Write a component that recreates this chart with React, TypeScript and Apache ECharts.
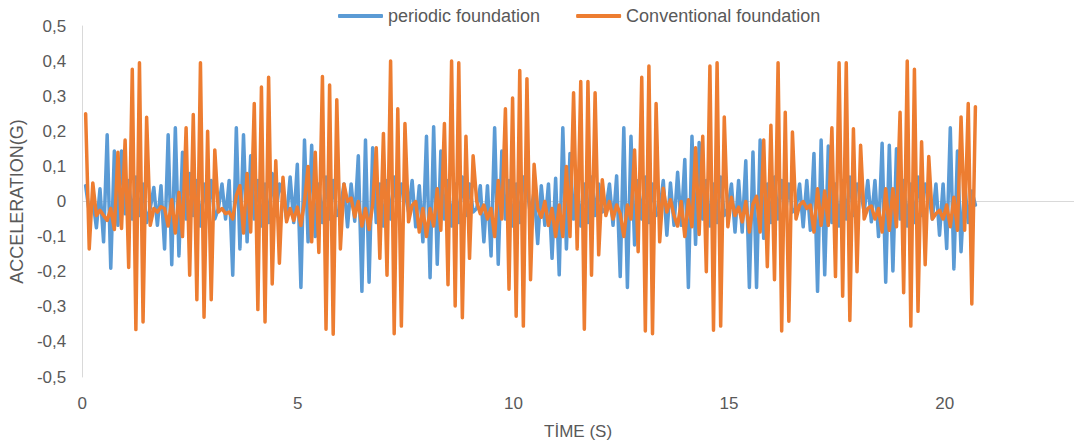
import React, { useEffect, useRef } from 'react';
import * as echarts from 'echarts';

// time axis: first sample time and sample step (s)
const TIME_START = 0.08;
const TIME_STEP = 0.0832;

const xTickLabels = [0, 5, 10, 15, 20];

// periodic foundation acceleration (g)
const periodicFoundation = [
  0.045, -0.03, 0.005, -0.075, 0.036, -0.115, 0.19, -0.19, 0.144, -0.068,
  0.144, -0.035, 0.06, -0.05, 0.07, -0.04, 0.05, -0.06, -0.02, 0.04,
  -0.068, 0.045, -0.135, 0.19, -0.18, 0.21, -0.155, 0.14, -0.05, 0.08,
  -0.04, 0.06, -0.07, 0.05, -0.04, 0.06, -0.05, -0.02, 0.05, -0.05,
  0.06, -0.21, 0.21, -0.135, 0.19, -0.115, 0.13, -0.05, 0.06, -0.07,
  0.05, -0.06, 0.08, -0.04, 0.05, 0.02, -0.05, 0.07, -0.06, 0.106,
  -0.245, 0.175, -0.115, 0.16, -0.1, 0.05, -0.06, 0.07, -0.05, 0.06,
  -0.04, -0.02, 0.05, -0.072, 0.05, -0.056, 0.13, -0.256, 0.175, -0.23,
  0.153, -0.06, 0.05, -0.07, 0.06, -0.05, 0.07, -0.04, 0.05, 0.03,
  -0.03, 0.06, -0.072, 0.045, -0.115, 0.186, -0.217, 0.213, -0.179, 0.144,
  -0.05, 0.06, -0.07, 0.05, -0.06, 0.07, -0.04, 0.05, -0.03, -0.02,
  0.045, -0.115, 0.045, -0.155, 0.21, -0.179, 0.144, -0.05, 0.06, -0.07,
  0.05, -0.06, 0.07, 0.04, -0.04, 0.03, -0.12, 0.045, -0.068, 0.05,
  -0.162, 0.066, -0.209, 0.21, -0.135, 0.137, -0.05, 0.06, -0.07, 0.05,
  -0.06, 0.07, -0.04, 0.05, -0.03, -0.02, 0.05, -0.068, 0.073, -0.214,
  0.21, -0.245, 0.186, -0.124, 0.06, -0.05, 0.07, -0.06, 0.05, -0.04,
  -0.03, 0.06, -0.096, 0.053, -0.068, 0.083, -0.068, 0.12, -0.245, 0.186,
  -0.122, 0.168, -0.05, 0.06, -0.07, 0.05, -0.06, 0.07, -0.04, -0.02,
  0.05, -0.087, 0.06, -0.087, 0.116, -0.245, 0.141, -0.245, 0.175, -0.105,
  0.05, -0.06, 0.07, -0.05, 0.06, -0.04, 0.05, -0.03, -0.02, 0.05,
  -0.072, 0.06, -0.082, 0.137, -0.256, 0.175, -0.209, 0.158, -0.06, 0.05,
  -0.07, 0.06, -0.05, 0.07, -0.04, 0.05, 0.03, -0.03, 0.06, -0.058,
  0.06, -0.1, 0.166, -0.23, 0.16, -0.198, 0.15, -0.05, 0.06, -0.07,
  0.05, -0.06, 0.07, -0.04, 0.05, 0.02, -0.05, 0.05, -0.096, 0.05,
  -0.134, 0.21, -0.192, 0.144, -0.143, 0.05, -0.06, 0.03, -0.01,
];

// conventional foundation acceleration (g)
const conventionalFoundation = [
  0.25, -0.135, 0.053, -0.04, -0.025, -0.04, -0.054, -0.02, -0.08, 0.14,
  -0.077, 0.175, -0.188, 0.377, -0.365, 0.395, -0.343, 0.24, -0.068, -0.02,
  -0.03, -0.015, -0.02, -0.07, 0.005, -0.09, 0.026, -0.1, 0.21, -0.21,
  0.248, -0.28, 0.395, -0.33, 0.2, -0.28, 0.147, -0.03, -0.02, -0.035,
  -0.03, -0.05, 0.017, 0.045, -0.09, 0.08, -0.087, 0.279, -0.308, 0.326,
  -0.343, 0.354, -0.235, 0.116, -0.176, 0.069, -0.058, -0.02, -0.054, -0.016,
  -0.068, 0.0, 0.1, -0.115, 0.14, -0.145, 0.356, -0.364, 0.332, -0.378,
  0.29, -0.135, 0.05, 0.0, 0.01, -0.044, 0.0, -0.07, -0.02, -0.08,
  -0.01, 0.153, -0.162, 0.194, -0.21, 0.4, -0.377, 0.264, -0.355, 0.222,
  -0.058, -0.011, 0.0, -0.087, -0.02, -0.1, -0.02, -0.07, 0.036, -0.082,
  0.222, -0.237, 0.4, -0.298, 0.395, -0.331, 0.186, -0.162, 0.13, 0.0,
  -0.035, -0.01, -0.05, -0.02, -0.1, 0.06, -0.05, 0.264, -0.25, 0.295,
  -0.327, 0.373, -0.355, 0.35, -0.223, 0.106, -0.02, -0.045, 0.0, -0.068,
  -0.02, -0.1, -0.01, -0.1, 0.1, -0.1, 0.31, -0.135, 0.342, -0.364,
  0.342, -0.21, 0.31, -0.152, 0.062, -0.04, 0.0, -0.05, -0.01, -0.035,
  -0.1, -0.01, -0.05, 0.147, -0.143, 0.354, -0.369, 0.386, -0.377, 0.279,
  -0.115, 0.038, -0.03, 0.005, -0.04, -0.07, 0.0, -0.1, 0.005, -0.072,
  0.153, -0.094, 0.186, -0.2, 0.386, -0.367, 0.395, -0.355, 0.241, -0.072,
  0.012, -0.04, -0.016, -0.058, 0.0, -0.087, -0.007, 0.015, -0.087, 0.175,
  -0.186, 0.217, -0.223, 0.395, -0.369, 0.254, -0.341, 0.198, -0.05, -0.01,
  0.0, -0.02, -0.01, -0.087, 0.036, -0.068, 0.03, -0.068, 0.21, -0.214,
  0.395, -0.27, 0.395, -0.339, 0.207, -0.2, 0.16, -0.05, -0.02, -0.013,
  -0.05, -0.02, -0.087, 0.036, -0.082, 0.036, -0.072, 0.254, -0.26, 0.4,
  -0.355, 0.377, -0.313, 0.17, -0.18, 0.128, -0.05, -0.035, -0.025, -0.05,
  -0.01, -0.072, 0.012, -0.082, 0.241, -0.082, 0.279, -0.292, 0.27,
];

const FONT = '"Liberation Sans", Arial, sans-serif';
const TEXT_COLOR = '#595959';
const BLUE = '#5B9BD5';
const ORANGE = '#ED7D31';

export default function App() {
  const ref = useRef<HTMLDivElement>(null);

  useEffect(() => {
    if (!ref.current) return;
    const chart = echarts.init(ref.current, null, { renderer: 'svg' });
    const toPairs = (arr: number[]) =>
      arr.map((v, i) => [Math.round((TIME_START + TIME_STEP * i) * 10000) / 10000, v]);

    chart.setOption({
      animation: false,
      backgroundColor: '#ffffff',
      textStyle: { fontFamily: FONT },
      legend: {
        left: 333,
        top: 2,
        itemWidth: 45,
        itemHeight: 4,
        itemGap: 36,
        icon: 'roundRect',
        textStyle: { fontSize: 18, color: TEXT_COLOR, fontFamily: FONT },
        data: ['periodic foundation', 'Conventional foundation'],
      },
      grid: { left: 80, right: 2, top: 26, bottom: 69 },
      xAxis: {
        type: 'value',
        min: 0,
        max: 23,
        interval: 5,
        name: 'TİME (S)',
        nameLocation: 'middle',
        nameGap: 46,
        nameTextStyle: { color: TEXT_COLOR, fontSize: 17, fontFamily: FONT },
        axisLine: { show: false },
        axisTick: { show: false },
        splitLine: { show: false },
        axisLabel: {
          color: TEXT_COLOR,
          fontSize: 17,
          margin: 18,
          fontFamily: FONT,
          showMaxLabel: false,
          formatter: (v: number) => (xTickLabels.includes(v) ? String(v) : ''),
        },
      },
      yAxis: {
        type: 'value',
        min: -0.5,
        max: 0.5,
        interval: 0.1,
        name: 'ACCELERATION(G)',
        nameLocation: 'middle',
        nameRotate: 90,
        nameGap: 56,
        nameTextStyle: { color: TEXT_COLOR, fontSize: 18, fontFamily: FONT },
        axisLine: { show: true, lineStyle: { color: '#d9d9d9', width: 1 } },
        axisTick: { show: false },
        splitLine: { show: false },
        axisLabel: {
          color: TEXT_COLOR,
          fontSize: 17,
          margin: 16,
          fontFamily: FONT,
          formatter: (v: number) =>
            Math.abs(v) < 1e-9 ? '0' : v.toFixed(1).replace('.', ','),
        },
      },
      series: [
        {
          name: 'periodic foundation',
          type: 'line',
          data: toPairs(periodicFoundation),
          symbol: 'none',
          showSymbol: false,
          z: 2,
          lineStyle: { color: BLUE, width: 3.5, cap: 'round', join: 'round' },
          itemStyle: { color: BLUE },
          markLine: {
            silent: true,
            symbol: 'none',
            z: 1,
            label: { show: false },
            lineStyle: { color: '#d9d9d9', width: 1, type: 'solid' },
            data: [{ yAxis: 0 }],
          },
        },
        {
          name: 'Conventional foundation',
          type: 'line',
          data: toPairs(conventionalFoundation),
          symbol: 'none',
          showSymbol: false,
          z: 3,
          lineStyle: { color: ORANGE, width: 3.5, cap: 'round', join: 'round' },
          itemStyle: { color: ORANGE },
        },
      ],
    });

    return () => chart.dispose();
  }, []);

  return (
    <div
      ref={ref}
      style={{ position: 'absolute', left: 0, top: 0, width: 1076, height: 446 }}
    />
  );
}
